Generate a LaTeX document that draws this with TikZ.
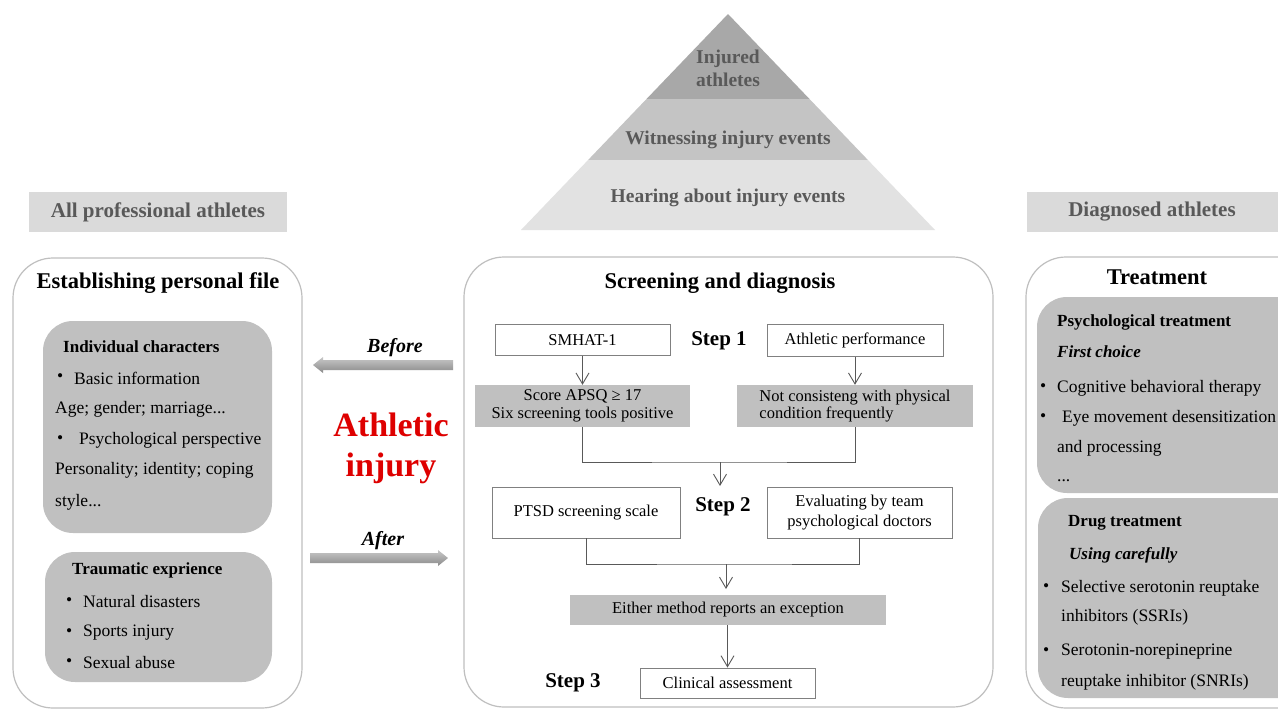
\documentclass[tikz,border=0pt]{standalone}
\usepackage{fontspec}
\setmainfont{Liberation Serif}
\usetikzlibrary{arrows.meta,calc}
\definecolor{txtgray}{HTML}{595959}
\definecolor{pyrA}{HTML}{A8A8A8}
\definecolor{pyrB}{HTML}{C4C4C4}
\definecolor{pyrC}{HTML}{E2E2E2}
\definecolor{hdrfill}{HTML}{DADADA}
\definecolor{innerfill}{HTML}{C0C0C0}
\definecolor{panelline}{HTML}{BFBFBF}
\definecolor{boxline}{HTML}{808080}
\definecolor{connc}{HTML}{595959}
\definecolor{redtxt}{RGB}{222,0,0}
\definecolor{arrtop}{HTML}{C8C8C8}
\definecolor{arrbot}{HTML}{8A8A8A}
\tikzset{
  body/.style={inner sep=0pt, anchor=west, font=\fontsize{17.5}{21}\selectfont},
  bodyb/.style={inner sep=0pt, anchor=west, font=\fontsize{17}{21}\selectfont\bfseries},
  bodybi/.style={inner sep=0pt, anchor=west, font=\fontsize{17}{21}\selectfont\bfseries\itshape},
  ptitle/.style={inner sep=0pt, font=\fontsize{22.5}{26}\selectfont\bfseries},
  hdrtext/.style={inner sep=0pt, text=txtgray, font=\fontsize{21}{24}\selectfont\bfseries},
  pyrtext/.style={inner sep=0pt, text=txtgray, align=center, font=\fontsize{19.5}{23}\selectfont\bfseries},
  panel/.style={draw=panelline, line width=1.2pt, rounded corners=40pt, fill=white},
  innerbox/.style={fill=innerfill, rounded corners=30pt},
  cbox/.style={draw=boxline, fill=white, line width=0.9pt, inner sep=2pt, align=center,
    font=\fontsize{16.5}{19}\selectfont},
  gbox/.style={fill=innerfill, inner sep=2pt, font=\fontsize{16.5}{17.5}\selectfont},
  steplbl/.style={inner sep=0pt, font=\fontsize{21}{24}\selectfont\bfseries},
  conn/.style={draw=connc, line width=0.9pt},
  arr/.style={conn, -{Straight Barb[length=11pt,width=13pt,line width=0.9pt]}},
  labelbi/.style={inner sep=0pt, font=\fontsize{20}{24}\selectfont\bfseries\itshape},
}
\begin{document}
\begin{tikzpicture}[x=1pt,y=-1pt]
\clip (0,0) rectangle (1278,710);
\fill[white] (0,0) rectangle (1278,710);

% ---------- pyramid ----------
\fill[pyrA] (728,14) -- (809.5,99) -- (646.5,99) -- cycle;
\fill[pyrB] (646.5,99) -- (809.5,99) -- (867.9,160) -- (588.1,160) -- cycle;
\fill[pyrC] (588.1,160) -- (867.9,160) -- (935,230) -- (521,230) -- cycle;
\node[pyrtext, align=center] (pyr1) at (728,68) {Injured\\[0pt]athletes};
\node[pyrtext] (pyr2) at (728,140) {Witnessing injury events};
\node[pyrtext] (pyr3) at (728,198) {Hearing about injury events};

% ---------- headers ----------
\fill[hdrfill] (29,192) rectangle (287,232);
\node[hdrtext] (hdrL) at (158,212) {All professional athletes};
\fill[hdrfill] (1027,192) rectangle (1290,232);
\node[hdrtext] (hdrR) at (1152,212) {Diagnosed athletes};

% ---------- left panel ----------
\path[panel] (13,258) rectangle (302,708);
\node[ptitle] (lt) at (158,283) {Establishing personal file};
\path[innerbox] (43,321) rectangle (272,533);
\node[bodyb] (ic) at (63,347) {Individual characters};
\node[body] (icb1) at (57,378) {•};
\node[body] (ic1) at (74,378) {Basic information};
\node[body] (ic2) at (55,409) {Age; gender; marriage...};
\node[body] (icb2) at (57,440) {•};
\node[body] (ic3) at (79,440) {Psychological perspective};
\node[body] (ic4) at (55,470) {Personality; identity; coping};
\node[body] (ic5) at (55,502) {style...};
\path[innerbox] (45,552) rectangle (272,682);
\node[bodyb] (te) at (72,570) {Traumatic exprience};
\node[body] (teb1) at (66,602) {•};
\node[body] (te1) at (83,602) {Natural disasters};
\node[body] (teb2) at (66,633) {•};
\node[body] (te2) at (83,633) {Sports injury};
\node[body] (teb3) at (66,663) {•};
\node[body] (te3) at (83,663) {Sexual abuse};

% ---------- middle arrows ----------
\shade[top color=arrtop, bottom color=arrbot]
  (453,360) -- (323,360) -- (323,357) -- (313,365) -- (323,373) -- (323,370) -- (453,370) -- cycle;
\node[labelbi] (before) at (395,348) {Before};
\node[inner sep=0pt, text=redtxt, align=center, font=\fontsize{34}{40}\selectfont\bfseries]
  (ai) at (391,448) {Athletic\\injury};
\shade[top color=arrtop, bottom color=arrbot]
  (310,553) -- (438,553) -- (438,550) -- (448,558) -- (438,566) -- (438,563) -- (310,563) -- cycle;
\node[labelbi] (after) at (383,541) {After};

% ---------- center panel ----------
\path[panel] (464,257) rectangle (993,707);
\node[ptitle] (ct) at (720,283) {Screening and diagnosis};
\node[cbox, minimum width=175pt, minimum height=31pt] (smhat) at (582.5,340) {SMHAT-1};
\node[steplbl] (s1) at (719,341) {Step 1};
\node[cbox, minimum width=176pt, minimum height=32pt] (athp) at (855,340.5) {Athletic performance};
\node[gbox, minimum width=215pt, minimum height=42pt, align=center] (score) at (582.5,406)
  {Score APSQ ≥ 17\\Six screening tools positive};
\node[gbox, minimum width=236pt, minimum height=42pt, align=left] (notc) at (855,406)
  {Not consisteng with physical\\condition frequently};
\draw[arr] (smhat.south) -- (score.north);
\draw[arr] (athp.south) -- (notc.north);
\coordinate (j1) at (720,462);
\coordinate (j1e) at (720,486);
\draw[conn] (score.south) |- (j1) -| (notc.south);
\draw[arr] (j1) -- (j1e);

\node[cbox, minimum width=188pt, minimum height=51pt] (ptsd) at (586,512.5) {PTSD screening scale};
\node[steplbl] (s2) at (723,507) {Step 2};
\node[cbox, minimum width=185pt, minimum height=51pt, font=\fontsize{16.5}{20}\selectfont] (eval) at (859.5,512.5)
  {Evaluating by team\\psychological doctors};
\node[gbox, minimum width=316pt, minimum height=30pt] (either) at (728,610) {Either method reports an exception};
\coordinate (j2) at (726,564);
\coordinate (j2e) at (726,589);
\draw[conn] (ptsd.south) |- (j2) -| (eval.south);
\draw[arr] (j2) -- (j2e);

\node[cbox, minimum width=175pt, minimum height=30pt] (clin) at (727.5,683) {Clinical assessment};
\node[steplbl] (s3) at (573,683) {Step 3};
\draw[arr] (either.south -| clin.north) -- (clin.north);

% ---------- right panel ----------
\path[panel] (1026,257) rectangle (1330,708);
\node[ptitle] (rt) at (1157,277) {Treatment};
\path[innerbox] (1037,297) rectangle (1310,493);
\node[bodyb] (pt) at (1057,322) {Psychological treatment};
\node[bodybi] (fc) at (1057,352) {First choice};
\node[body] (ptb1) at (1040,388) {•};
\node[body] (pt1) at (1057,388) {Cognitive behavioral therapy};
\node[body] (ptb2) at (1040,418) {•};
\node[body] (pt2) at (1062,418) {Eye movement desensitization};
\node[body] (pt3) at (1057,448) {and processing};
\node[body] (pt4) at (1057,481) {...};
\path[innerbox] (1038,498) rectangle (1310,698);
\node[bodyb] (dt) at (1068,523) {Drug treatment};
\node[bodybi] (uc) at (1069,555) {Using carefully};
\node[body] (dtb1) at (1043,588) {•};
\node[body] (dt1) at (1061,588) {Selective serotonin reuptake};
\node[body] (dt2) at (1061,617) {inhibitors (SSRIs)};
\node[body] (dtb2) at (1043,652) {•};
\node[body] (dt3) at (1061,652) {Serotonin-norepineprine};
\node[body] (dt4) at (1061,682) {reuptake inhibitor (SNRIs)};
\end{tikzpicture}
\end{document}
